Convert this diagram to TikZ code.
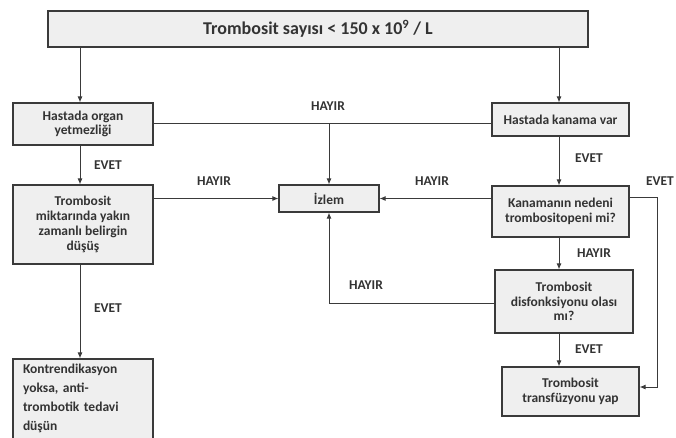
\documentclass[tikz,border=0pt]{standalone}
\usepackage{fontspec}
\setmainfont{Carlito}
\usetikzlibrary{arrows.meta}
\definecolor{boxfill}{HTML}{EFEFEF}
\definecolor{linec}{HTML}{3A3A3A}
\definecolor{txtc}{HTML}{333333}
\tikzset{
  box/.style={draw=linec, line width=1.1pt, fill=boxfill, rectangle, inner sep=0pt,
    align=center, text=txtc, font=\bfseries\fontsize{13.5}{14.8}\selectfont},
  conn/.style={draw=linec, line width=1pt},
  arr/.style={conn, -{Latex[length=6pt,width=5pt]}},
  lab/.style={text=txtc, font=\bfseries\fontsize{13.5}{15}\selectfont, inner sep=0pt}
}
\begin{document}
\begin{tikzpicture}[x=1pt,y=-1pt]
\useasboundingbox (0,0) rectangle (676,437);
% nodes
\node[box, minimum width=540pt, minimum height=36pt, font=\bfseries\fontsize{18}{20}\selectfont] (top) at (318,29) {Trombosit sayısı < 150 x 10\textsuperscript{9} / L};
\node[box, minimum width=140pt, minimum height=42pt] (organ) at (83,124) {Hastada organ\\yetmezliği};
\node[box, minimum width=137pt, minimum height=33pt] (kanama) at (560.5,119.5) {Hastada kanama var};
\node[box, minimum width=140pt, minimum height=79pt] (trom) at (83,224.5) {Trombosit\\miktarında yakın\\zamanlı belirgin\\düşüş};
\node[box, minimum width=100pt, minimum height=27pt] (izlem) at (329,198.5) {İzlem};
\node[box, minimum width=137pt, minimum height=51pt] (neden) at (560.5,211.5) {Kanamanın nedeni\\trombositopeni mi?};
\node[box, minimum width=138pt, minimum height=63pt] (disf) at (564,301.5) {Trombosit\\disfonksiyonu olası\\mı?};
\node[box, minimum width=137pt, minimum height=49pt] (transf) at (570.5,391.5) {Trombosit\\transfüzyonu yap};
\node[box, minimum width=140pt, minimum height=86pt, text width=124pt, align=left,
  font=\bfseries\fontsize{13.5}{19}\selectfont] (kontr) at (83,402) {};
\node[text=txtc, text width=124pt, align=left, inner sep=0pt,
  font=\bfseries\fontsize{13.5}{19}\selectfont] (kontrtxt) at (85,398) {Kontrendikasyon\\yoksa, anti-\\trombotik tedavi\\düşün};
% helper coordinates
\coordinate (L) at (80,0);
\coordinate (R) at (559,0);
\coordinate (J) at (329,123);
\coordinate (K) at (329,303);
\coordinate (P) at (657,197);
\coordinate (Q) at (657,387);
% connectors
\draw[arr] (top.south -| L) -- (organ.north -| L);
\draw[arr] (top.south -| R) -- (kanama.north -| R);
\draw[conn] (organ.east |- J) -- (kanama.west |- J);
\draw[arr] (J) -- (izlem.north);
\draw[arr] (organ.south -| L) -- (trom.north -| L);
\draw[arr] (trom.east |- izlem.west) -- (izlem.west);
\draw[arr] (neden.west |- izlem.east) -- (izlem.east);
\draw[arr] (kanama.south -| R) -- (neden.north -| R);
\draw[arr] (neden.south -| R) -- (disf.north -| R);
\draw[arr] (disf.west |- K) -- (K) -- (izlem.south);
\draw[arr] (disf.south -| R) -- (transf.north -| R);
\draw[arr] (neden.east |- P) -- (P) -- (Q) -- (transf.east |- Q);
\draw[arr] (trom.south -| L) -- (kontr.north -| L);
% labels
\node[lab] (l1) at (328,106) {HAYIR};
\node[lab] (l2) at (108,165) {EVET};
\node[lab] (l3) at (214,181) {HAYIR};
\node[lab] (l4) at (432,181) {HAYIR};
\node[lab] (l5) at (589,158) {EVET};
\node[lab] (l6) at (660,181) {EVET};
\node[lab] (l7) at (594,253) {HAYIR};
\node[lab] (l8) at (366,285) {HAYIR};
\node[lab] (l9) at (589,349) {EVET};
\node[lab] (l10) at (108,308) {EVET};
\end{tikzpicture}
\end{document}
